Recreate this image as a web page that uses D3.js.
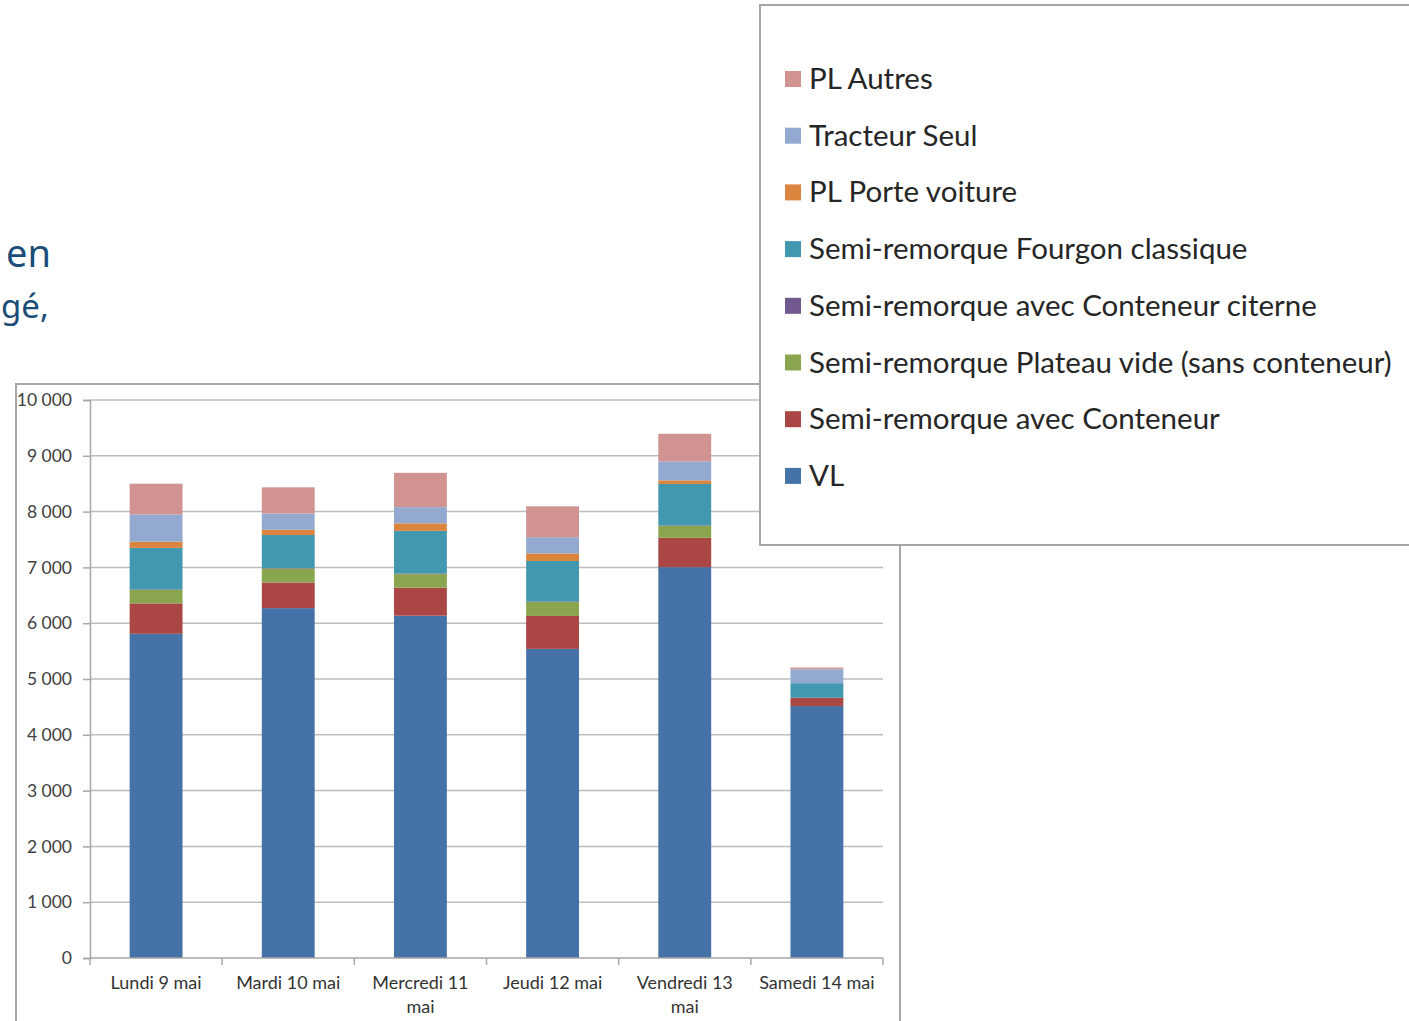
<!DOCTYPE html>
<html>
<head>
<meta charset="utf-8">
<script src="https://cdn.jsdelivr.net/npm/d3@7"></script>
<style>
  body { margin: 0; background: #fff; }
  svg { display: block; }
</style>
</head>
<body>
<svg width="1409" height="1021"></svg>
<script>
// days on the x axis (wrapped lines as in the original)
const categories = ["Lundi 9 mai", "Mardi 10 mai", "Mercredi 11 mai", "Jeudi 12 mai", "Vendredi 13 mai", "Samedi 14 mai"];
const categoryLines = [["Lundi 9 mai"], ["Mardi 10 mai"], ["Mercredi 11", "mai"], ["Jeudi 12 mai"], ["Vendredi 13", "mai"], ["Samedi 14 mai"]];

// stacked from the bottom up
const seriesNames = [
  "VL",
  "Semi-remorque avec Conteneur",
  "Semi-remorque Plateau vide (sans conteneur)",
  "Semi-remorque avec Conteneur citerne",
  "Semi-remorque Fourgon classique",
  "PL Porte voiture",
  "Tracteur Seul",
  "PL Autres"
];
const vl        = [5810, 6270, 6135, 5540, 7005, 4515];
const conteneur = [545, 460, 500, 590, 525, 150];
const plateau   = [240, 250, 245, 250, 215, 0];
const citerne   = [10, 10, 10, 10, 10, 0];
const fourgon   = [745, 590, 765, 725, 740, 260];
const porte     = [110, 95, 135, 135, 65, 0];
const tracteur  = [490, 290, 290, 290, 340, 250];
const autres    = [550, 470, 615, 555, 495, 30];
const seriesValues = [vl, conteneur, plateau, citerne, fourgon, porte, tracteur, autres];

const colors = ["#4572A7", "#AA4643", "#89A54E", "#71588F", "#4198AF", "#DB843D", "#93A9CF", "#D19392"];
const yTicks = [0, 1000, 2000, 3000, 4000, 5000, 6000, 7000, 8000, 9000, 10000];

const table = categories.map((c, i) => {
  const row = { cat: c };
  seriesNames.forEach((s, j) => row[s] = seriesValues[j][i]);
  return row;
});

const svg = d3.select("svg");
const font = "Lato, 'Open Sans', sans-serif";

// fragment of page text at the left edge
svg.append("text").attr("x", 51).attr("y", 267).attr("text-anchor", "end")
  .attr("font-family", "'Noto Sans', sans-serif").attr("font-size", 38)
  .attr("fill", "#1b4d78").text("en");
svg.append("text").attr("x", 1).attr("y", 318).attr("text-anchor", "start")
  .attr("font-family", "'Noto Sans', sans-serif").attr("font-size", 33)
  .attr("fill", "#1b4d78").text("gé,");

// chart frame
svg.append("rect")
  .attr("x", 16).attr("y", 384).attr("width", 884).attr("height", 700)
  .attr("fill", "#fff").attr("stroke", "#a6a6a6").attr("stroke-width", 2);

const x = d3.scaleBand()
  .domain(categories)
  .range([90, 883])
  .paddingInner(0.6)
  .paddingOuter(0.3);

const y = d3.scaleLinear()
  .domain([0, 10000])
  .range([958, 400]);

const loc = d3.formatLocale({ decimal: ",", thousands: " ", grouping: [3], currency: ["", " €"] });
const fmt = loc.format(",d");

// gridlines
svg.append("g")
  .selectAll("line")
  .data(yTicks.slice(1))
  .join("line")
  .attr("x1", 90).attr("x2", 883)
  .attr("y1", d => y(d)).attr("y2", d => y(d))
  .attr("stroke", "#bdbdbd").attr("stroke-width", 1.5);

// y axis
const yAxis = svg.append("g")
  .attr("transform", "translate(90,0)")
  .call(d3.axisLeft(y).tickValues(yTicks).tickSize(7).tickPadding(11).tickFormat(fmt));
yAxis.select(".domain").attr("stroke", "#a6a6a6").attr("stroke-width", 1.5);
yAxis.selectAll(".tick line").attr("stroke", "#a6a6a6").attr("stroke-width", 1.5);
yAxis.selectAll("text").attr("font-family", font).attr("font-size", 17.5).attr("fill", "#404040");

// stacked bars
const stack = d3.stack().keys(seriesNames)(table);
svg.append("g")
  .selectAll("g")
  .data(stack)
  .join("g")
  .attr("fill", (d, i) => colors[i])
  .selectAll("rect")
  .data(d => d)
  .join("rect")
  .attr("x", d => x(d.data.cat))
  .attr("width", x.bandwidth())
  .attr("y", d => y(d[1]))
  .attr("height", d => y(d[0]) - y(d[1]));

// x axis line and ticks at band boundaries
const xAxis = svg.append("g").attr("transform", "translate(0,958)");
xAxis.append("line").attr("x1", 90).attr("x2", 883).attr("stroke", "#a6a6a6").attr("stroke-width", 1.5);
const bounds = d3.range(categories.length + 1).map(i => 90 + i * x.step());
xAxis.selectAll(".tk")
  .data(bounds)
  .join("line")
  .attr("class", "tk")
  .attr("x1", d => d).attr("x2", d => d)
  .attr("y1", 0).attr("y2", 7)
  .attr("stroke", "#a6a6a6").attr("stroke-width", 1.5);

const labels = xAxis.selectAll(".lbl")
  .data(categories)
  .join("text")
  .attr("class", "lbl")
  .attr("font-family", font).attr("font-size", 18).attr("fill", "#333")
  .attr("text-anchor", "middle");
labels.each(function(d, i) {
  const t = d3.select(this);
  categoryLines[i].forEach((line, k) => {
    t.append("tspan")
      .attr("x", x(d) + x.bandwidth() / 2)
      .attr("y", 31 + k * 24)
      .text(line);
  });
});

// legend box
const legend = svg.append("g");
legend.append("rect")
  .attr("x", 760).attr("y", 5).attr("width", 700).attr("height", 540)
  .attr("fill", "#fff").attr("stroke", "#a6a6a6").attr("stroke-width", 2);
const order = d3.range(seriesNames.length).reverse();
const items = legend.selectAll(".item")
  .data(order)
  .join("g")
  .attr("class", "item")
  .attr("transform", (d, k) => `translate(785,${79 + k * 56.7})`);
items.append("rect")
  .attr("x", 0).attr("y", -8).attr("width", 16).attr("height", 16)
  .attr("fill", d => colors[d]);
items.append("text")
  .attr("x", 24).attr("y", 10)
  .attr("font-family", font).attr("font-size", 29.5).attr("fill", "#262626")
  .text(d => seriesNames[d]);
</script>
</body>
</html>
